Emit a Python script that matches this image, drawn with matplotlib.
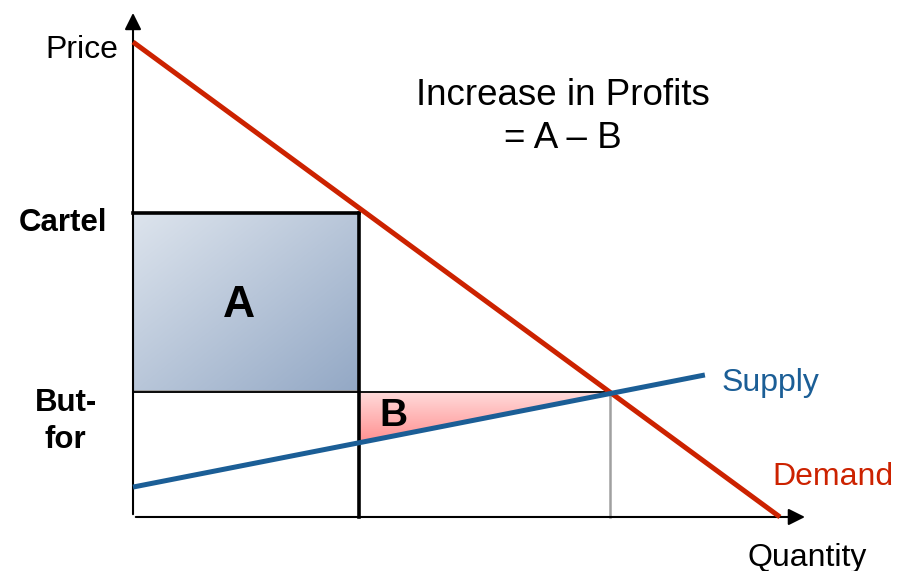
import numpy as np
import matplotlib
matplotlib.use("Agg")
import matplotlib.pyplot as plt
from matplotlib.patches import Polygon

plt.rcParams['font.family'] = ['Liberation Sans', 'DejaVu Sans']

# curves (quantity, price)
demand_q = [0.0, 10.0]
demand_p = [10.0, 0.0]
supply_q = [0.0, 8.84]
supply_p = [0.63, 2.99]

cartel_q, cartel_p = 3.5, 6.4
butfor_q, butfor_p = 7.37, 2.63

axis_q_max = 10.43
axis_p_max = 10.67

red = '#CC2200'
blue = '#1B5E96'

fig = plt.figure(figsize=(9.09, 5.71), dpi=100)
ax = fig.add_axes([0, 0, 1, 1])
ax.set_xlim(-2.056, 11.995)
ax.set_ylim(-1.137, 10.884)
ax.axis('off')

# area A : gradient rectangle
rect = Polygon([(0, butfor_p), (cartel_q, butfor_p), (cartel_q, cartel_p), (0, cartel_p)],
               closed=True, facecolor='none', edgecolor='none')
ax.add_patch(rect)
gx, gy = np.meshgrid(np.linspace(0, 1, 200), np.linspace(0, 1, 200))
g = (gx + (1 - gy)) / 2
img = ax.imshow(g, extent=[0, cartel_q, butfor_p, cartel_p], origin='lower',
                cmap=matplotlib.colors.LinearSegmentedColormap.from_list('a', ['#DDE4ED', '#93A8C5']),
                aspect='auto', zorder=1)
img.set_clip_path(rect)

# area B : triangle between but-for price and supply
supply_at_cartel = np.interp(cartel_q, supply_q, supply_p)
tri = Polygon([(cartel_q, butfor_p), (butfor_q, butfor_p), (cartel_q, supply_at_cartel)],
              closed=True, facecolor='none', edgecolor='none')
ax.add_patch(tri)
gb = np.linspace(0, 1, 200)[:, None] * np.ones((1, 10))
img2 = ax.imshow(gb, extent=[cartel_q, butfor_q, supply_at_cartel, butfor_p], origin='lower',
                 cmap=matplotlib.colors.LinearSegmentedColormap.from_list('b', ['#FF8F8F', '#FFDADA']),
                 aspect='auto', zorder=1)
img2.set_clip_path(tri)

# guide lines
ax.plot([0, cartel_q], [butfor_p + 0.03, butfor_p + 0.03], color='#999999', lw=2, zorder=2)
ax.plot([0, butfor_q], [butfor_p, butfor_p], color='black', lw=1.3, zorder=2)
ax.plot([butfor_q, butfor_q], [0, butfor_p], color='#A0A0A0', lw=1.8, zorder=2)
ax.plot([0, cartel_q], [cartel_p, cartel_p], color='black', lw=2.6, zorder=3)
ax.plot([cartel_q, cartel_q], [0, cartel_p], color='black', lw=2.6, zorder=3)

# axes with arrows
ax.annotate('', xy=(axis_q_max, 0), xytext=(0, 0),
            arrowprops=dict(arrowstyle='-|>', lw=1.5, color='black', mutation_scale=25), zorder=4)
ax.annotate('', xy=(0, axis_p_max), xytext=(0, 0),
            arrowprops=dict(arrowstyle='-|>', lw=1.5, color='black', mutation_scale=25), zorder=4)

# demand and supply
ax.plot(demand_q, demand_p, color=red, lw=3.6, solid_capstyle='butt', zorder=5)
ax.plot(supply_q, supply_p, color=blue, lw=3.6, solid_capstyle='butt', zorder=5)

# labels
ax.text(-0.23, 9.84, 'Price', fontsize=23, ha='right', va='center')
ax.text(-1.08, cartel_p - 0.21, 'Cartel', fontsize=22.5, fontweight='bold', ha='center', va='center')
ax.text(-1.03, 2.39, 'But-', fontsize=22.5, fontweight='bold', ha='center', va='center')
ax.text(-1.05, 1.62, 'for', fontsize=22.5, fontweight='bold', ha='center', va='center')
ax.text(1.64, 4.45, 'A', fontsize=32, fontweight='bold', ha='center', va='center')
ax.text(4.03, 2.12, 'B', fontsize=28, fontweight='bold', ha='center', va='center')
ax.text(6.65, 8.87, 'Increase in Profits', fontsize=26.5, ha='center', va='center')
ax.text(6.65, 7.96, '= A \u2013 B', fontsize=26.5, ha='center', va='center')
ax.text(9.09, 2.83, 'Supply', fontsize=23, color=blue, ha='left', va='center')
ax.text(9.89, 0.84, 'Demand', fontsize=23, color=red, ha='left', va='center')
ax.text(10.42, -0.86, 'Quantity', fontsize=23, ha='center', va='center')

fig.savefig('out.png', dpi=100)
